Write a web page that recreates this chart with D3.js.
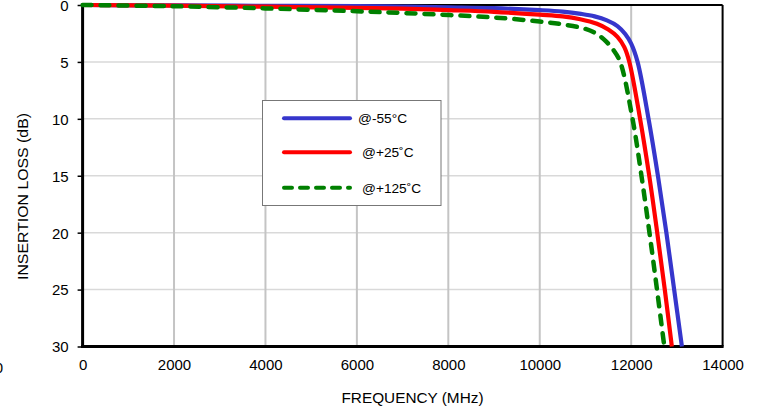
<!DOCTYPE html>
<html><head><meta charset="utf-8">
<script src="https://cdn.jsdelivr.net/npm/d3@7"></script>
<style>html,body{margin:0;padding:0;background:#fff;overflow:hidden}text{font-family:"Liberation Sans",Arial,Helvetica,sans-serif}</style>
</head><body>
<svg id="c" width="762" height="408"></svg>
<script>
const xTicks = [0, 2000, 4000, 6000, 8000, 10000, 12000, 14000];
const yTicks = [0, 5, 10, 15, 20, 25, 30];
const seriesNames = ["@-55°C", "@+25˚C", "@+125˚C"];
const seriesColors = ["#3636cc", "#ff0000", "#008000"];
const freqM55 = [0,2000,4000,6000,7000,8000,9000,10000,10500,10900,11200,11470,11700,11870,12000,12140,12380,12585,12770,12940,13110];
const lossM55 = [0,0.04,0.07,0.1,0.13,0.2,0.28,0.45,0.58,0.78,1.0,1.35,1.85,2.55,3.4,5,10,15,20,25,30];
const freqP25 = [0,2000,4000,6000,7000,8000,9000,10000,10500,10885,11250,11500,11700,11850,11960,12195,12395,12570,12735,12890];
const lossP25 = [0,0.06,0.15,0.25,0.32,0.45,0.6,0.85,1.0,1.25,1.65,2.15,2.8,3.7,5,10,15,20,25,30];
const freqP125 = [0,1900,4000,6000,7000,8000,9000,10000,10500,11000,11250,11450,11620,11760,12030,12225,12400,12565,12725];
const lossP125 = [0,0.1,0.3,0.55,0.7,0.88,1.1,1.45,1.7,2.1,2.55,3.2,4.0,5,10,15,20,25,30];

const svg = d3.select("#c");
const L = 82.6, R = 722.6, T = 5, B = 346.5;
const x = d3.scaleLinear().domain([0, 14000]).range([L, R]);
const y = d3.scaleLinear().domain([0, 30]).range([T, B]);

// grid
svg.append("g").selectAll("line").data(yTicks.filter(d => d > 0 && d < 30)).join("line")
  .attr("x1", L).attr("x2", R).attr("y1", d => y(d)).attr("y2", d => y(d))
  .attr("stroke", "#d9d9d9").attr("stroke-width", 1.5);
svg.append("g").selectAll("line").data(xTicks.filter(d => d > 0 && d < 14000)).join("line")
  .attr("y1", T).attr("y2", B).attr("x1", d => x(d)).attr("x2", d => x(d))
  .attr("stroke", "#c4c4c4").attr("stroke-width", 2);

// border
svg.append("line").attr("x1", L).attr("x2", R).attr("y1", T).attr("y2", T).attr("stroke", "#000").attr("stroke-width", 2);
svg.append("line").attr("x1", R).attr("x2", R).attr("y1", T).attr("y2", B).attr("stroke", "#000").attr("stroke-width", 2);

// axes
const yAxis = d3.axisLeft(y).tickValues(yTicks).tickSize(5).tickPadding(9).tickFormat(d3.format("d"));
const gy = svg.append("g").attr("transform", `translate(${L},0)`).call(yAxis);
gy.select(".domain").remove();
gy.selectAll(".tick line").attr("stroke", "#000").attr("stroke-width", 1.5);
gy.selectAll("text").attr("font-size", 15).attr("fill", "#000").attr("dy", "0.36em");
svg.append("line").attr("x1", L).attr("x2", L).attr("y1", T - 1).attr("y2", B + 1.5).attr("stroke", "#000").attr("stroke-width", 3);

const xAxis = d3.axisBottom(x).tickValues(xTicks).tickSize(0).tickPadding(13).tickFormat(d3.format("d"));
const gx = svg.append("g").attr("transform", `translate(0,${B})`).call(xAxis);
gx.select(".domain").remove();
gx.selectAll("text").attr("font-size", 15).attr("fill", "#000");
svg.append("line").attr("x1", L - 1.5).attr("x2", R + 1).attr("y1", B).attr("y2", B).attr("stroke", "#000").attr("stroke-width", 3);

// clipped stray label at far left
svg.append("text").attr("x", 3).attr("y", 373).attr("text-anchor", "end").attr("font-size", 15).text("0");

// axis titles
svg.append("text").attr("x", 412.5).attr("y", 403).attr("text-anchor", "middle").attr("font-size", 15)
  .attr("textLength", 142).attr("lengthAdjust", "spacingAndGlyphs").text("FREQUENCY (MHz)");
svg.append("text").attr("transform", `translate(28,196.5) rotate(-90)`).attr("text-anchor", "middle").attr("font-size", 15.5)
  .attr("textLength", 167).attr("lengthAdjust", "spacingAndGlyphs").text("INSERTION LOSS (dB)");

// series
const series = [
  { name: seriesNames[0], color: seriesColors[0], f: freqM55, l: lossM55, dash: null },
  { name: seriesNames[1], color: seriesColors[1], f: freqP25, l: lossP25, dash: null },
  { name: seriesNames[2], color: seriesColors[2], f: freqP125, l: lossP125, dash: "9,9" }
];
const lineGen = d3.line().x(d => x(d[0])).y(d => y(d[1])).curve(d3.curveCatmullRom.alpha(0.5));
series.forEach(s => {
  const pts = s.f.map((f, i) => [f, s.l[i]]);
  const p = svg.append("path").attr("d", lineGen(pts)).attr("fill", "none")
    .attr("stroke", s.color).attr("stroke-width", 4.2);
  if (s.dash) p.attr("stroke-dasharray", s.dash).attr("stroke-linecap", "round").attr("stroke-width", 4.5);
});

// legend
const lg = svg.append("g");
lg.append("rect").attr("x", 262.5).attr("y", 100.5).attr("width", 178.5).attr("height", 105).attr("fill", "#fff").attr("stroke", "#777").attr("stroke-width", 1);
const ly = [118.3, 152.3, 187.7];
const lx = [358, 362, 362];
series.forEach((s, i) => {
  const l = lg.append("line").attr("x1", 284).attr("x2", 350).attr("y1", ly[i]).attr("y2", ly[i])
    .attr("stroke", s.color).attr("stroke-width", 4).attr("stroke-linecap", "round");
  if (s.dash) l.attr("stroke-dasharray", "8,8");
  lg.append("text").attr("x", lx[i]).attr("y", ly[i] + 5).attr("font-size", 13.7).text(s.name);
});
</script>
</body></html>
